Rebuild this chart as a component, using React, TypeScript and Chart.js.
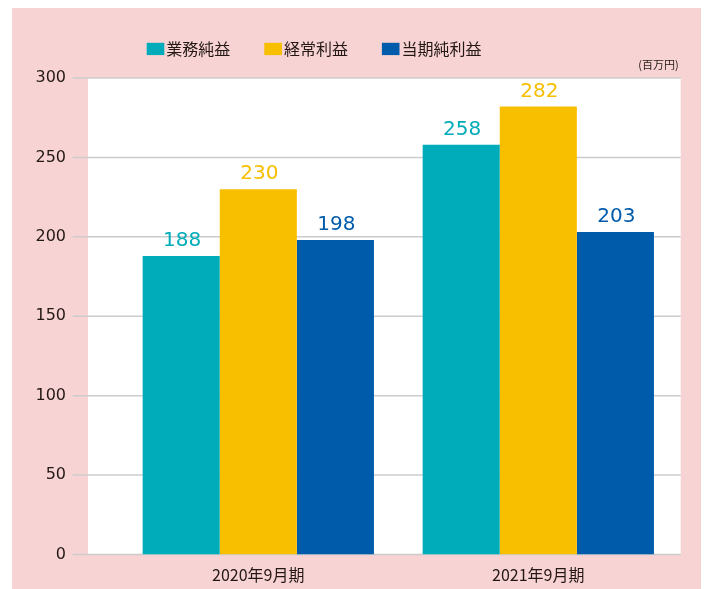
import React, { useEffect, useRef } from "react";
import { Chart, registerables } from "chart.js";

Chart.register(...registerables);

const categories = ["2020年9月期", "2021年9月期"];
const seriesNames = ["業務純益", "経常利益", "当期純利益"];
const gyomuJuneki = [188, 258];
const keijoRieki = [230, 282];
const tokiJunRieki = [198, 203];
const yTicks = [0, 50, 100, 150, 200, 250, 300];
const unitLabel = "(百万円)";

const colors = ["#00acb9", "#f8be00", "#005bab"];
const TEXT = "#231815";
const PINK = "#f8d3d4";
const GRID = "#cccccc";
const JP = "'Noto Sans CJK JP', 'Noto Sans', sans-serif";
const NUM = "'DejaVu Sans', sans-serif";

const backgroundPlugin = {
  id: "bgGrid",
  beforeDraw(chart: any) {
    const { ctx, chartArea, scales } = chart;
    const y = scales.y;
    ctx.save();
    ctx.fillStyle = PINK;
    ctx.fillRect(4, 0, 691, chart.height);
    const top = y.getPixelForValue(yTicks[yTicks.length - 1]);
    const bottom = y.getPixelForValue(0);
    const left = chartArea.left - 30.3;
    const right = chartArea.right + 2.4;
    ctx.fillStyle = "#ffffff";
    ctx.fillRect(left, top, right - left, bottom - top);
    ctx.strokeStyle = GRID;
    ctx.lineWidth = 1.5;
    for (const v of yTicks) {
      const py = y.getPixelForValue(v);
      ctx.beginPath();
      ctx.moveTo(chartArea.left - 45.6, py);
      ctx.lineTo(right, py);
      ctx.stroke();
    }
    ctx.restore();
  },
  afterDatasetsDraw(chart: any) {
    const ctx = chart.ctx;
    ctx.save();
    ctx.font = `20px ${NUM}`;
    ctx.textAlign = "center";
    ctx.textBaseline = "alphabetic";
    chart.data.datasets.forEach((ds: any, i: number) => {
      const meta = chart.getDatasetMeta(i);
      meta.data.forEach((bar: any, j: number) => {
        ctx.fillStyle = colors[i];
        ctx.fillText(String(ds.data[j]), bar.x + 1, bar.y - 10);
      });
    });
    ctx.restore();
  },
  afterDraw(chart: any) {
    const { ctx, chartArea } = chart;
    ctx.save();
    ctx.font = `16px ${JP}`;
    ctx.textBaseline = "middle";
    ctx.textAlign = "left";
    let x = 138.7;
    const cy = 41;
    seriesNames.forEach((n, i) => {
      ctx.fillStyle = colors[i];
      ctx.fillRect(x, cy - 6.2, 17.6, 12.3);
      ctx.fillStyle = TEXT;
      ctx.fillText(n, x + 19.6, cy);
      x += 19.6 + ctx.measureText(n).width + 34;
    });
    ctx.font = `11px ${JP}`;
    ctx.textAlign = "right";
    ctx.fillStyle = TEXT;
    ctx.fillText(unitLabel, chartArea.right + 0.4, 57.3);
    ctx.restore();
  },
};

export default function App() {
  const ref = useRef<HTMLCanvasElement | null>(null);
  useEffect(() => {
    let chart: Chart | null = null;
    let cancelled = false;
    const make = () => {
      if (cancelled || !ref.current) return;
      chart = new Chart(ref.current, {
        type: "bar",
        data: {
          labels: categories,
          datasets: [
            { label: seriesNames[0], data: gyomuJuneki, backgroundColor: colors[0] },
            { label: seriesNames[1], data: keijoRieki, backgroundColor: colors[1] },
            { label: seriesNames[2], data: tokiJunRieki, backgroundColor: colors[2] },
          ],
        },
        options: {
          responsive: false,
          animation: false,
          layout: { padding: { top: 70, right: 22.7, bottom: 0, left: 0 } },
          plugins: { legend: { display: false }, tooltip: { enabled: false } },
          datasets: { bar: { categoryPercentage: 0.826, barPercentage: 1 } },
          scales: {
            x: {
              grid: { display: false, drawTicks: false },
              border: { display: false },
              ticks: { font: { family: JP, size: 16 }, color: TEXT, padding: 11 },
              afterFit: (s: any) => { s.height = 34.5; },
            },
            y: {
              min: 0,
              max: 300,
              grid: { display: false, drawTicks: false },
              border: { display: false },
              ticks: { font: { family: NUM, size: 16 }, color: TEXT, padding: 52.3 },
              afterBuildTicks: (s: any) => { s.ticks = yTicks.map((v) => ({ value: v })); },
              afterFit: (s: any) => {
                s.width = 110.3;
                s.paddingTop = 10;
                s.paddingBottom = 10;
              },
            },
          },
        },
        plugins: [backgroundPlugin],
      } as any);
    };
    const fontsReady = (document as any).fonts
      ? Promise.all([
          (document as any).fonts.load(`16px 'Noto Sans CJK JP'`, "業務純益"),
          (document as any).fonts.load(`16px 'DejaVu Sans'`, "0123"),
        ]).catch(() => null)
      : Promise.resolve(null);
    fontsReady.then(make);
    return () => {
      cancelled = true;
      if (chart) chart.destroy();
    };
  }, []);
  return (
    <div style={{ width: 693, height: 581 }}>
      <canvas ref={ref} width={693} height={581} style={{ display: "block" }} />
    </div>
  );
}
